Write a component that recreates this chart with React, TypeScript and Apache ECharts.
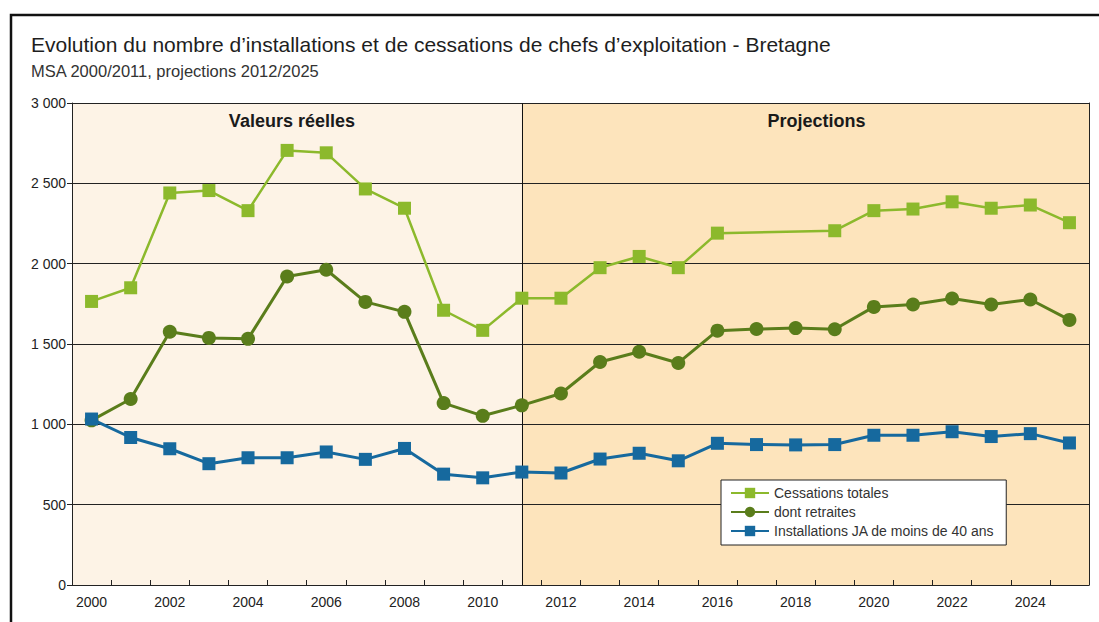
import React, { useEffect, useRef } from "react";
import * as echarts from "echarts";

const years = [
  "2000", "2001", "2002", "2003", "2004", "2005", "2006", "2007", "2008", "2009",
  "2010", "2011", "2012", "2013", "2014", "2015", "2016", "2017", "2018", "2019",
  "2020", "2021", "2022", "2023", "2024", "2025",
];

const cessationsTotales: (number | null)[] = [
  1765, 1850, 2440, 2455, 2330, 2705, 2690, 2465, 2345, 1710,
  1585, 1785, 1785, 1975, 2045, 1975, 2190, null, null, 2205,
  2330, 2340, 2385, 2345, 2365, 2255,
];

const dontRetraites = [
  1025, 1158, 1576, 1538, 1532, 1920, 1962, 1762, 1700, 1132,
  1053, 1118, 1192, 1388, 1452, 1382, 1583, 1593, 1599, 1592,
  1731, 1746, 1783, 1746, 1777, 1650,
];

const installationsJA = [
  1033, 918, 848, 755, 792, 792, 828, 782, 850, 690,
  667, 703, 697, 784, 820, 773, 882, 874, 872, 874,
  932, 932, 954, 924, 942, 884,
];

const seriesNames = [
  "Cessations totales",
  "dont retraites",
  "Installations JA de moins de 40 ans",
];
const periodLabels = ["Valeurs réelles", "Projections"];
const splitYear = "2011";

const FONT = "'Liberation Sans', Arial, Helvetica, sans-serif";
const C_CESS = "#8cb92c";
const C_RET = "#5a7d1b";
const C_INST = "#16699e";

export default function App() {
  const ref = useRef<HTMLDivElement>(null);
  useEffect(() => {
    if (!ref.current) return;
    const chart = echarts.init(ref.current, null, { renderer: "svg" });
    const fmt = (v: number) => String(v).replace(/\B(?=(\d{3})+(?!\d))/g, " ");
    const areaLabel = {
      show: true,
      position: "insideTop",
      distance: 9,
      fontFamily: FONT,
      fontSize: 18,
      fontWeight: "bold",
      color: "#1a1a1a",
    };
    chart.setOption({
      animation: false,
      textStyle: { fontFamily: FONT },
      title: [
        {
          text: "Evolution du nombre d’installations et de cessations de chefs d’exploitation - Bretagne",
          left: 26,
          top: 29,
          textStyle: { fontFamily: FONT, fontSize: 21, fontWeight: "normal", color: "#1e1e1e" },
        },
        {
          text: "MSA 2000/2011, projections 2012/2025",
          left: 26,
          top: 57,
          textStyle: { fontFamily: FONT, fontSize: 16.5, fontWeight: "normal", color: "#333" },
        },
      ],
      graphic: [
        {
          type: "rect",
          shape: { x: 11, y: 15, width: 1200, height: 700 },
          style: { fill: "none", stroke: "#111", lineWidth: 2.5 },
          silent: true,
        },
      ],
      legend: {
        orient: "vertical",
        left: 721,
        top: 480,
        backgroundColor: "#ffffff",
        borderColor: "#222",
        borderWidth: 1,
        padding: [6, 12, 7, 9],
        itemGap: 5,
        itemWidth: 38,
        itemHeight: 13,
        textStyle: { fontFamily: FONT, fontSize: 14, color: "#333" },
        data: seriesNames,
      },
      grid: { left: 72, right: 10, top: 103, bottom: 37, containLabel: false },
      xAxis: {
        type: "category",
        data: years,
        boundaryGap: true,
        z: 1.5,
        axisLine: { show: true, lineStyle: { color: "#222", width: 1 } },
        axisTick: { show: true, inside: true, length: 5, interval: 0, lineStyle: { color: "#222" } },
        axisLabel: { interval: 1, color: "#222", fontSize: 14, margin: 10, fontFamily: FONT },
      },
      yAxis: [
        {
          type: "value",
          min: 0,
          max: 3000,
          interval: 500,
          z: 1.5,
          axisLine: { show: true, lineStyle: { color: "#222", width: 1 } },
          axisTick: { show: true, length: 5, lineStyle: { color: "#222" } },
          axisLabel: { color: "#222", fontSize: 14, margin: 6, fontFamily: FONT, formatter: fmt },
          splitLine: { show: true, lineStyle: { color: "#222", width: 1 } },
        },
        {
          type: "value",
          min: 0,
          max: 3000,
          interval: 500,
          position: "right",
          z: 1.5,
          axisLine: { show: true, lineStyle: { color: "#222", width: 1 } },
          axisTick: { show: false },
          axisLabel: { show: false },
          splitLine: { show: false },
        },
      ],
      series: [
        {
          name: seriesNames[0],
          type: "line",
          data: cessationsTotales,
          connectNulls: true,
          symbol: "rect",
          symbolSize: 13,
          z: 3,
          itemStyle: { color: C_CESS },
          lineStyle: { color: C_CESS, width: 2.5 },
          markArea: {
            silent: true,
            z: 1,
            data: [
              [
                {
                  name: periodLabels[0],
                  itemStyle: { color: "#fdf3e6" },
                  label: { ...areaLabel, offset: [-5, 0] },
                },
                { xAxis: splitYear },
              ],
              [
                {
                  name: periodLabels[1],
                  xAxis: splitYear,
                  itemStyle: { color: "#fde4bc" },
                  label: { ...areaLabel, offset: [11, 0] },
                },
                {},
              ],
            ],
          },
          markLine: {
            silent: true,
            symbol: "none",
            z: 1.6,
            label: { show: false },
            lineStyle: { color: "#111", width: 1, type: "solid" },
            data: [{ xAxis: splitYear }],
          },
        },
        {
          name: seriesNames[1],
          type: "line",
          data: dontRetraites,
          symbol: "circle",
          symbolSize: 14,
          z: 4,
          itemStyle: { color: C_RET },
          lineStyle: { color: C_RET, width: 3 },
        },
        {
          name: seriesNames[2],
          type: "line",
          data: installationsJA,
          symbol: "rect",
          symbolSize: 13,
          z: 5,
          itemStyle: { color: C_INST },
          lineStyle: { color: C_INST, width: 3 },
        },
      ],
    });
    return () => chart.dispose();
  }, []);
  return (
    <div
      ref={ref}
      style={{ position: "fixed", left: 0, top: 0, width: 1099, height: 622, background: "#fff" }}
    />
  );
}
